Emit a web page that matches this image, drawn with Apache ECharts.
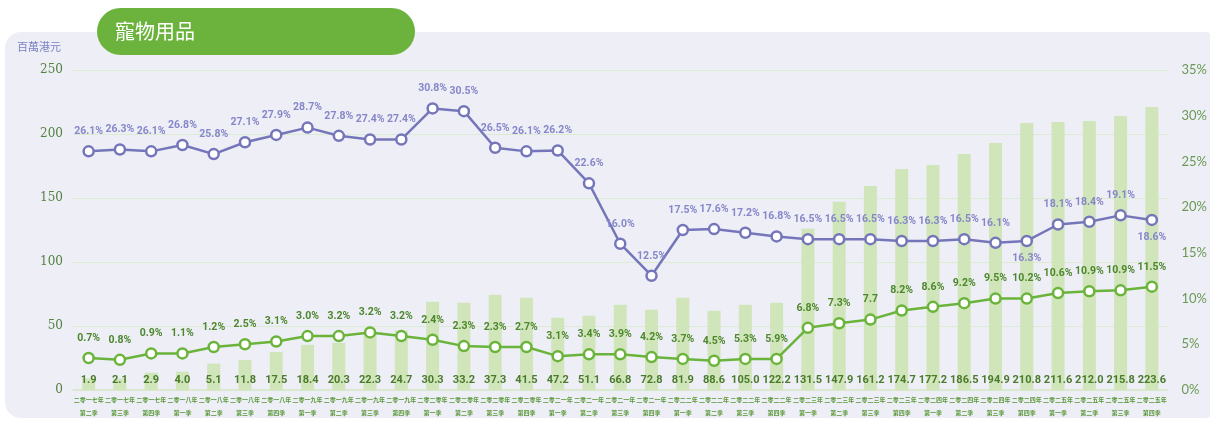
<!DOCTYPE html>
<html>
<head>
<meta charset="utf-8">
<script src="https://cdn.jsdelivr.net/npm/echarts@6/dist/echarts.min.js"></script>
<style>
  html, body { margin: 0; padding: 0; background: #ffffff; }
  #chart { width: 1210px; height: 421px; }
</style>
</head>
<body>
<div id="chart"></div>
<script>
  // x-axis quarters
  const categories = [
    '二零一七年\n第二季', '二零一七年\n第三季', '二零一七年\n第四季',
    '二零一八年\n第一季', '二零一八年\n第二季', '二零一八年\n第三季', '二零一八年\n第四季',
    '二零一九年\n第一季', '二零一九年\n第二季', '二零一九年\n第三季', '二零一九年\n第四季',
    '二零二零年\n第一季', '二零二零年\n第二季', '二零二零年\n第三季', '二零二零年\n第四季',
    '二零二一年\n第一季', '二零二一年\n第二季', '二零二一年\n第三季', '二零二一年\n第四季',
    '二零二二年\n第一季', '二零二二年\n第二季', '二零二二年\n第三季', '二零二二年\n第四季',
    '二零二三年\n第一季', '二零二三年\n第二季', '二零二三年\n第三季', '二零二三年\n第四季',
    '二零二四年\n第一季', '二零二四年\n第二季', '二零二四年\n第三季', '二零二四年\n第四季',
    '二零二五年\n第一季', '二零二五年\n第二季', '二零二五年\n第三季', '二零二五年\n第四季',
  ];

  // bar heights as drawn (百萬港元) and the values printed under them
  const barHeights = [9, 9, 13.5, 14.3, 20.6, 23.5, 29.7, 35.3, 36.8, 45, 46.4, 69, 68.2, 74.5, 72, 56.5, 58, 66.6, 62.7, 72, 62, 66.6, 68.2, 126, 147, 159.4, 172.7, 175.8, 184.4, 193, 208.6, 209.4, 210.2, 214, 221];
  const barLabels = [1.9, 2.1, 2.9, 4.0, 5.1, 11.8, 17.5, 18.4, 20.3, 22.3, 24.7, 30.3, 33.2, 37.3, 41.5, 47.2, 51.1, 66.8, 72.8, 81.9, 88.6, 105.0, 122.2, 131.5, 147.9, 161.2, 174.7, 177.2, 186.5, 194.9, 210.8, 211.6, 212.0, 215.8, 223.6];

  // purple share line (%)
  const purpleValues = [26.1, 26.3, 26.1, 26.8, 25.8, 27.1, 27.9, 28.7, 27.8, 27.4, 27.4, 30.8, 30.5, 26.5, 26.1, 26.2, 22.6, 16.0, 12.5, 17.5, 17.6, 17.2, 16.8, 16.5, 16.5, 16.5, 16.3, 16.3, 16.5, 16.1, 16.3, 18.1, 18.4, 19.1, 18.6];
  const purpleBelow = [30, 34];

  // green line as drawn (%) and its printed labels
  const greenValues = [3.5, 3.3, 4.0, 4.0, 4.7, 5.0, 5.3, 5.9, 5.9, 6.3, 5.9, 5.5, 4.8, 4.7, 4.7, 3.7, 3.9, 3.9, 3.6, 3.4, 3.2, 3.4, 3.4, 6.8, 7.3, 7.7, 8.7, 9.1, 9.5, 10.0, 10.0, 10.6, 10.8, 10.9, 11.3];
  const greenLabels = ['0.7%', '0.8%', '0.9%', '1.1%', '1.2%', '2.5%', '3.1%', '3.0%', '3.2%', '3.2%', '3.2%', '2.4%', '2.3%', '2.3%', '2.7%', '3.1%', '3.4%', '3.9%', '4.2%', '3.7%', '4.5%', '5.3%', '5.9%', '6.8%', '7.3%', '7.7', '8.2%', '8.6%', '9.2%', '9.5%', '10.2%', '10.6%', '10.9%', '10.9%', '11.5%'];

  const leftTicks = { min: 0, max: 250, interval: 50 };
  const rightTicks = { min: 0, max: 35, interval: 5 };

  const numFont = "Roboto, 'Liberation Sans', sans-serif";
  const cjkFont = "'Noto Sans CJK TC', 'Noto Sans CJK SC', sans-serif";

  const chart = echarts.init(document.getElementById('chart'));

  const option = {
    animation: false,
    graphic: [
      {
        type: 'rect',
        z: -10,
        shape: { x: 5, y: 32, width: 1215, height: 386, r: 16 },
        style: { fill: '#eeeef7' },
      },
      {
        type: 'rect',
        z: -5,
        shape: { x: 97, y: 8, width: 318, height: 47, r: 23.5 },
        style: { fill: '#6cb33e' },
      },
      {
        type: 'text',
        z: -4,
        x: 115,
        y: 31,
        style: {
          text: '寵物用品',
          fill: '#ffffff',
          font: "20px 'Noto Sans CJK TC', sans-serif",
          verticalAlign: 'middle',
        },
      },
      {
        type: 'text',
        x: 17,
        y: 47,
        style: {
          text: '百萬港元',
          fill: '#7d83c4',
          font: "11px 'Noto Sans CJK TC', sans-serif",
          verticalAlign: 'middle',
        },
      },
    ],
    grid: { left: 73, right: 41, top: 70, bottom: 31 },
    xAxis: {
      type: 'category',
      data: categories,
      axisTick: { show: false },
      axisLine: { lineStyle: { color: '#d6e8c9', width: 1.5 } },
      axisLabel: {
        interval: 0,
        fontFamily: cjkFont,
        fontWeight: 'bold',
        fontSize: 6,
        lineHeight: 13,
        color: '#5a9838',
        margin: 3,
      },
    },
    yAxis: [
      {
        type: 'value',
        ...leftTicks,
        axisLine: { show: false },
        axisTick: { show: false },
        axisLabel: { color: '#55803f', fontSize: 12, fontFamily: "'DejaVu Serif', serif", margin: 10 },
        splitLine: { lineStyle: { color: '#dcecd2', width: 1 } },
      },
      {
        type: 'value',
        ...rightTicks,
        axisLine: { show: false },
        axisTick: { show: false },
        axisLabel: { color: '#6b9a55', fontSize: 13, fontFamily: 'Lato, sans-serif', margin: 14, formatter: '{value}%' },
        splitLine: { show: false },
      },
    ],
    series: [
      {
        name: 'bars',
        type: 'bar',
        yAxisIndex: 0,
        data: barHeights,
        barWidth: 13,
        itemStyle: { color: '#d0e5ba' },
        label: {
          show: true,
          position: 'insideBottom',
          distance: 4,
          color: '#4a7a2b',
          fontFamily: numFont,
          fontWeight: 'bold',
          fontSize: 11,
          formatter: (p) => barLabels[p.dataIndex].toFixed(1),
        },
        z: 1,
      },
      {
        name: 'green',
        type: 'line',
        yAxisIndex: 1,
        data: greenValues,
        symbol: 'circle',
        symbolSize: 10,
        lineStyle: { color: '#6ab43c', width: 2.5 },
        itemStyle: { color: '#ffffff', borderColor: '#6ab43c', borderWidth: 2.5 },
        label: {
          show: true,
          position: 'top',
          distance: 8,
          color: '#4d872c',
          fontFamily: numFont,
          fontWeight: 'bold',
          fontSize: 10.5,
          formatter: (p) => greenLabels[p.dataIndex],
        },
        z: 3,
      },
      {
        name: 'purple',
        type: 'line',
        yAxisIndex: 1,
        data: purpleValues.map((v, i) => ({
          value: v,
          label: purpleBelow.includes(i) ? { position: 'bottom', distance: 6 } : undefined,
        })),
        symbol: 'circle',
        symbolSize: 10,
        lineStyle: { color: '#7576ba', width: 2.5 },
        itemStyle: { color: '#ffffff', borderColor: '#7576ba', borderWidth: 2.5 },
        label: {
          show: true,
          position: 'top',
          distance: 8,
          color: '#8687c9',
          fontFamily: numFont,
          fontWeight: 'bold',
          fontSize: 10.5,
          formatter: (p) => p.value.toFixed(1) + '%',
        },
        z: 4,
      },
    ],
  };

  chart.setOption(option);
</script>
</body>
</html>
